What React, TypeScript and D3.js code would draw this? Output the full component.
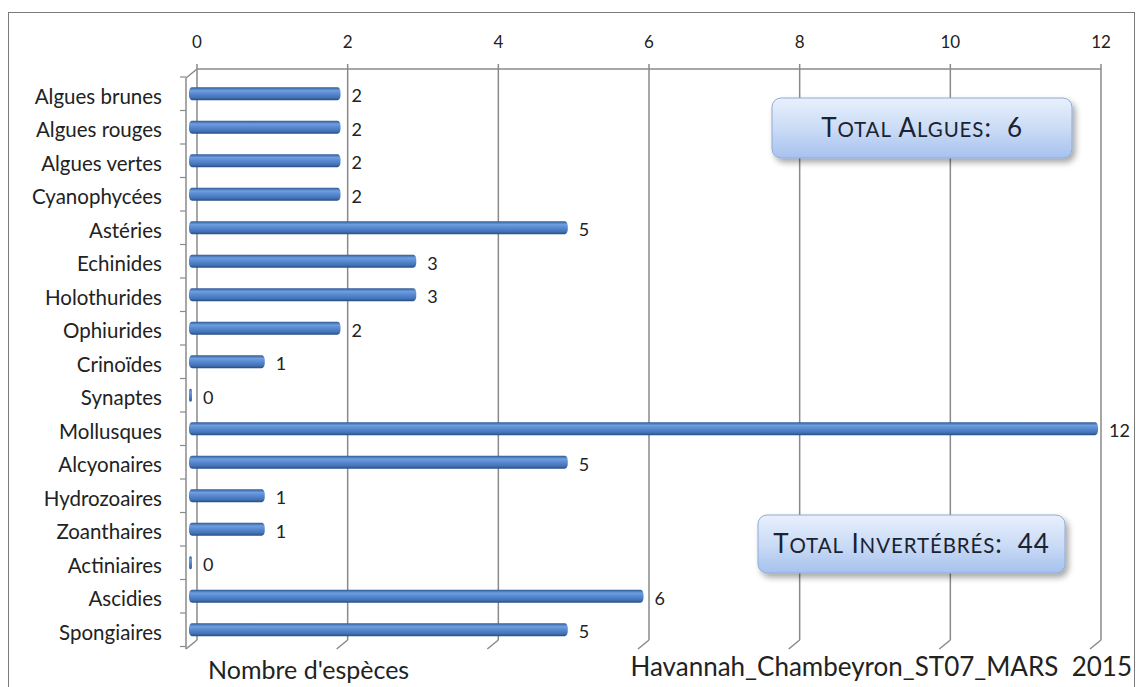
import React from "react";
import * as d3 from "d3";

const categories = [
  "Algues brunes", "Algues rouges", "Algues vertes", "Cyanophycées", "Astéries",
  "Echinides", "Holothurides", "Ophiurides", "Crinoïdes", "Synaptes", "Mollusques",
  "Alcyonaires", "Hydrozoaires", "Zoanthaires", "Actiniaires", "Ascidies", "Spongiaires",
];
const values = [2, 2, 2, 2, 5, 3, 3, 2, 1, 0, 12, 5, 1, 1, 0, 6, 5];
const xTicks = [0, 2, 4, 6, 8, 10, 12];
const totalLabels = ["Total Algues:", "Total Invertébrés:"];
const totalValues = [6, 44];
const axisTitle = "Nombre d'espèces";
const stationTitle = "Havannah_Chambeyron_ST07_MARS  2015";

const W = 1136;
const H = 687;
const FONT = "Lato, 'Open Sans', sans-serif";

function smallCaps(text: string, big: number, small: number) {
  const runs: { t: string; lower: boolean }[] = [];
  for (const ch of text) {
    const lower = ch !== ch.toUpperCase();
    const last = runs[runs.length - 1];
    if (last && last.lower === lower) last.t += ch;
    else runs.push({ t: ch, lower });
  }
  return runs.map((r, i) => (
    <tspan key={i} fontSize={r.lower ? small : big}>
      {r.lower ? r.t.toUpperCase() : r.t}
    </tspan>
  ));
}

export default function App() {
  const xBack = d3.scaleLinear().domain([0, 12]).range([197, 1101]);
  const xFront = d3.scaleLinear().domain([0, 12]).range([189, 1098]);
  const y = d3.scaleBand<string>().domain(categories).range([80, 649.5]).padding(0);
  const bw = y.bandwidth();
  const wallTop = 69;
  const wallBottom = 640;
  const dx = -11;
  const dy = 9;
  const barH = 13;
  const grid = "#8a8a8a";

  const boxes = [
    { x: 772, y: 98, w: 300, h: 60 },
    { x: 758, y: 515, w: 307, h: 58 },
  ];

  return (
    <svg
      width={W}
      height={H}
      style={{ position: "absolute", left: 0, top: 0, background: "#fff" }}
      fontFamily={FONT}
    >
      <defs>
        <linearGradient id="barGrad" x1="0" y1="0" x2="0" y2="1">
          <stop offset="0%" stopColor="#2f5b95" />
          <stop offset="25%" stopColor="#6e9ee0" />
          <stop offset="45%" stopColor="#5c8dd4" />
          <stop offset="80%" stopColor="#4272b6" />
          <stop offset="100%" stopColor="#264c80" />
        </linearGradient>
        <linearGradient id="boxGrad" x1="0" y1="0" x2="0" y2="1">
          <stop offset="0%" stopColor="#e8f0fc" />
          <stop offset="50%" stopColor="#cbdcf6" />
          <stop offset="100%" stopColor="#a6c2ee" />
        </linearGradient>
        <filter id="shadow" x="-10%" y="-20%" width="130%" height="160%">
          <feDropShadow dx="3" dy="4" stdDeviation="3" floodColor="#000" floodOpacity="0.35" />
        </filter>
      </defs>

      {/* image frame */}
      <rect x={8.5} y={12.5} width={1126} height={H + 20} fill="none" stroke="#7a7a7a" strokeWidth={1} />

      {/* back wall top line */}
      <line x1={xBack(0)} x2={xBack(12)} y1={wallTop} y2={wallTop} stroke={grid} strokeWidth={1.5} />
      {/* left wall */}
      <line x1={xBack(0) + dx} x2={xBack(0)} y1={wallTop + dy} y2={wallTop} stroke={grid} strokeWidth={1.5} />
      <line x1={xBack(0) + dx} x2={xBack(0) + dx} y1={wallTop + dy} y2={wallBottom + dy} stroke={grid} strokeWidth={1.5} />

      {/* vertical gridlines */}
      {xTicks.map((t) => (
        <g key={t}>
          <line x1={xBack(t)} x2={xBack(t)} y1={wallTop - 5} y2={wallBottom} stroke={grid} strokeWidth={1.5} />
          <line x1={xBack(t)} x2={xBack(t) + dx} y1={wallBottom} y2={wallBottom + dy} stroke={grid} strokeWidth={1.5} />
          <text x={xBack(t)} y={48} textAnchor="middle" fontSize={17} fill="#222">
            {t}
          </text>
        </g>
      ))}

      {/* category ticks on left wall */}
      {d3.range(categories.length + 1).map((i) => {
        const yy = 80 + i * bw - 3;
        return (
          <line key={i} x1={xBack(0) + dx - 6} x2={xBack(0) + dx} y1={yy} y2={yy} stroke={grid} strokeWidth={1.2} />
        );
      })}

      {/* category labels */}
      {categories.map((c) => (
        <text
          key={c}
          x={162}
          y={(y(c) as number) + bw / 2}
          dy="0.35em"
          textAnchor="end"
          fontSize={20.5}
          fill="#222"
        >
          {c}
        </text>
      ))}

      {/* bars */}
      {categories.map((c, i) => {
        const v = values[i];
        const cy = (y(c) as number) + bw / 2 - 3;
        const x0 = xFront(0);
        const x1 = xFront(v);
        const w = Math.max(x1 - x0, 3);
        return (
          <g key={c}>
            <rect x={x0} y={cy - barH / 2} width={w} height={barH} rx={3} ry={v > 0 ? 5 : 3} fill="url(#barGrad)" />
            <text x={x0 + w + 11} y={cy + 2} dy="0.35em" fontSize={18} fill="#222">
              {v}
            </text>
          </g>
        );
      })}

      {/* total boxes */}
      {boxes.map((b, i) => (
        <g key={i}>
          <rect
            x={b.x}
            y={b.y}
            width={b.w}
            height={b.h}
            rx={9}
            fill="url(#boxGrad)"
            stroke="#8eaad6"
            strokeWidth={1}
            filter="url(#shadow)"
          />
          <text
            x={b.x + b.w / 2}
            y={b.y + b.h / 2}
            dy="0.36em"
            textAnchor="middle"
            fontSize={26}
            letterSpacing={0.9}
            fill="#1b2230"
            style={{ whiteSpace: "pre" }}
          >
            {smallCaps(totalLabels[i] + "  " + totalValues[i], 26, 20.5)}
          </text>
        </g>
      ))}

      {/* bottom titles */}
      <text x={208} y={679} fontSize={25} fill="#222">
        {axisTitle}
      </text>
      <text x={1132} y={676} textAnchor="end" fontSize={26} fill="#222" style={{ whiteSpace: "pre" }}>
        {stationTitle}
      </text>
    </svg>
  );
}
